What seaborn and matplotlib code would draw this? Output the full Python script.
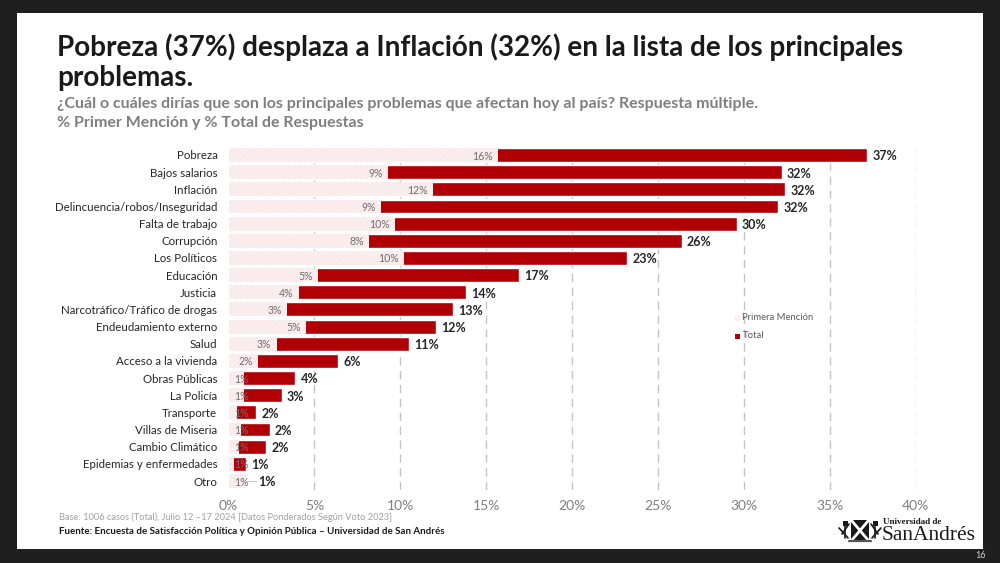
import matplotlib
matplotlib.use("Agg")
import matplotlib.pyplot as plt
import matplotlib.patches as mpatches
import pandas as pd
import seaborn as sns

# Values
categorias = ["Pobreza", "Bajos salarios", "Inflación", "Delincuencia/robos/Inseguridad",
              "Falta de trabajo", "Corrupción", "Los Políticos", "Educación", "Justicia",
              "Narcotráfico/Tráfico de drogas", "Endeudamiento externo", "Salud",
              "Acceso a la vivienda", "Obras Públicas", "La Policía", "Transporte",
              "Villas de Miseria", "Cambio Climático", "Epidemias y enfermedades", "Otro"]
primera = [15.7, 9.3, 11.9, 8.9, 9.7, 8.2, 10.2, 5.2, 4.1, 3.4,
           4.5, 2.8, 1.7, 0.9, 0.9, 0.5, 0.7, 0.6, 0.3, 1.0]
total = [37.2, 32.2, 32.4, 32.0, 29.6, 26.4, 23.2, 16.9, 13.8, 13.1,
         12.1, 10.5, 6.4, 3.9, 3.1, 1.6, 2.4, 2.2, 1.0, 1.0]
etiquetas_primera = ["16%", "9%", "12%", "9%", "10%", "8%", "10%", "5%", "4%", "3%",
                     "5%", "3%", "2%", "1%", "1%", "1%", "1%", "1%", "1%", "1%"]
etiquetas_total = ["37%", "32%", "32%", "32%", "30%", "26%", "23%", "17%", "14%", "13%",
                   "12%", "11%", "6%", "4%", "3%", "2%", "2%", "2%", "1%", "1%"]
ticks = [0, 5, 10, 15, 20, 25, 30, 35, 40]

ROJO = "#b00006"
ROSA = "#fbeeee"
FUENTE = ["Lato", "DejaVu Sans"]

sns.set_theme(style="white")
plt.rcParams["font.family"] = FUENTE
plt.rcParams["hatch.linewidth"] = 0.5

df = pd.DataFrame({"categoria": categorias, "primera": primera, "total": total})

fig = plt.figure(figsize=(10, 5.63), dpi=100, facecolor="#1f1f1f")
W, H = 1000, 563


def fx(px):
    return px / W


def fy(py):
    return 1 - py / H


def linea(x0, y0, x1, y1, color="#1a1a1a", lw=1.0):
    fig.add_artist(plt.Line2D([fx(x0), fx(x1)], [fy(y0), fy(y1)], color=color, lw=lw,
                              transform=fig.transFigure))


# White slide over the dark frame
fig.add_artist(mpatches.Rectangle((fx(17), fy(549)), 966 / W, 536 / H, transform=fig.transFigure,
                                  facecolor="white", edgecolor="none", zorder=-5))

ax = fig.add_axes([fx(228.5), fy(489.6), 687 / W, 343.2 / H])
ax.patch.set_alpha(0)

sns.barplot(data=df, y="categoria", x="total", color=ROJO, width=0.81, saturation=1, ax=ax, zorder=3)
n_rojas = len(ax.patches)
sns.barplot(data=df, y="categoria", x="primera", color=ROSA, width=0.81, saturation=1, ax=ax, zorder=4)
for barra in ax.patches[n_rojas:]:
    barra.set_hatch("//////")
    barra.set_edgecolor("#f8e6e6")
    barra.set_linewidth(0)

ax.set_xlim(0, 40)
ax.set_ylim(len(categorias) - 0.5, -0.5)
ax.set_xticks(ticks)
ax.set_xticklabels([f"{t}%" for t in ticks], fontsize=10, color="#7f7f7f")
ax.tick_params(axis="x", length=0, pad=7.5)
ax.tick_params(axis="y", length=0, pad=8, labelsize=8.3, labelcolor="#262626")
ax.set_xlabel("")
ax.set_ylabel("")
for lado in ax.spines.values():
    lado.set_visible(False)
ax.xaxis.grid(False)
for t in ticks[1:]:
    ax.axvline(t, color="#c4c4c4", lw=1.0, ls=(0, (6, 4)), zorder=1)

# Value labels
for i, (p, tot) in enumerate(zip(primera, total)):
    ax.text(p - 0.3, i + 0.06, etiquetas_primera[i], ha="right", va="center", fontsize=7.6,
            color="#6f6f6f", zorder=6)
    ax.text(tot + 0.3, i + 0.08, etiquetas_total[i], ha="left", va="center",
            fontsize=9, fontweight="bold", color="#262626", zorder=6)
    if tot <= p:
        ax.plot([tot, tot + 0.6], [i, i], color="#c8c8c8", lw=0.8, zorder=5)

# Small labels hug the axis
for texto, p in zip(ax.texts[0::2], primera):
    if p < 1.2:
        texto.set_ha("left")
        texto.set_x(0.35)
for texto, tot, p in zip(ax.texts[1::2], total, primera):
    if tot <= p:
        texto.set_x(tot + 0.7)

# Title block
fig.text(fx(57), fy(47), "Pobreza (37%) desplaza a Inflación (32%) en la lista de los principales",
         fontsize=20.05, fontweight="bold", color="#1a1a1a", va="center")
fig.text(fx(57), fy(78), "problemas.", fontsize=20.05, fontweight="bold", color="#1a1a1a", va="center")
fig.text(fx(57), fy(104), "¿Cuál o cuáles dirías que son los principales problemas que afectan hoy al país? Respuesta múltiple.",
         fontsize=11.5, fontweight="bold", color="#7f7f7f", va="center")
fig.text(fx(57), fy(123), "% Primer Mención y % Total de Respuestas",
         fontsize=11.5, fontweight="bold", color="#7f7f7f", va="center")

# Legend
fig.add_artist(mpatches.Rectangle((fx(734.5), fy(321)), 5 / W, 5 / H, transform=fig.transFigure,
                                  facecolor=ROSA, edgecolor="none"))
fig.add_artist(mpatches.Rectangle((fx(734.5), fy(339)), 5 / W, 5 / H, transform=fig.transFigure,
                                  facecolor=ROJO, edgecolor="none"))
fig.text(fx(742.5), fy(318), "Primera Mención", fontsize=6.85, color="#595959", va="center")
fig.text(fx(742.5), fy(336), "Total", fontsize=6.85, color="#595959", va="center")

# Footer
fig.text(fx(59), fy(517), "Base: 1006 casos (Total), Julio 12 –17 2024 [Datos Ponderados Según Voto 2023]",
         fontsize=6.65, color="#a0a0a0", va="center")
fig.text(fx(59), fy(532), "Fuente: Encuesta de Satisfacción Política y Opinión Pública – Universidad de San Andrés",
         fontsize=7.05, fontweight="bold", color="#1a1a1a", va="center")

# Logo, drawn roughly: shield, cross and a thistle on each side
fig.add_artist(mpatches.Rectangle((fx(851), fy(541)), 18 / W, 21 / H, transform=fig.transFigure,
                                  facecolor="#1a1a1a", edgecolor="none"))
linea(852, 521, 868, 540, "white", 2)
linea(852, 540, 868, 521, "white", 2)
for signo, centro in [(-1, 845), (1, 875)]:
    linea(centro, 522, centro, 538, lw=1.2)
    linea(centro + signo * 6, 528, centro - signo * 3, 538, lw=1.2)
    linea(centro - signo * 4, 524, centro + signo * 3, 534, lw=1.2)
    fig.add_artist(mpatches.Rectangle((fx(centro - 2.5), fy(526)), 5 / W, 5 / H, transform=fig.transFigure,
                                      facecolor="#1a1a1a", edgecolor="none"))
linea(849, 541, 871, 541, "#555555", 1.6)
fig.text(fx(883), fy(522), "Universidad de", family="Liberation Serif", fontsize=6.6, fontweight="bold",
         color="#1a1a1a", va="center")
fig.text(fx(882), fy(535), "SanAndrés", family="Liberation Serif", fontsize=15.5, color="#1a1a1a", va="center")

fig.text(fx(981), fy(556), "16", fontsize=6.5, color="#d0d0d0", ha="center", va="center")

fig.savefig("out.png", dpi=100, facecolor=fig.get_facecolor())
